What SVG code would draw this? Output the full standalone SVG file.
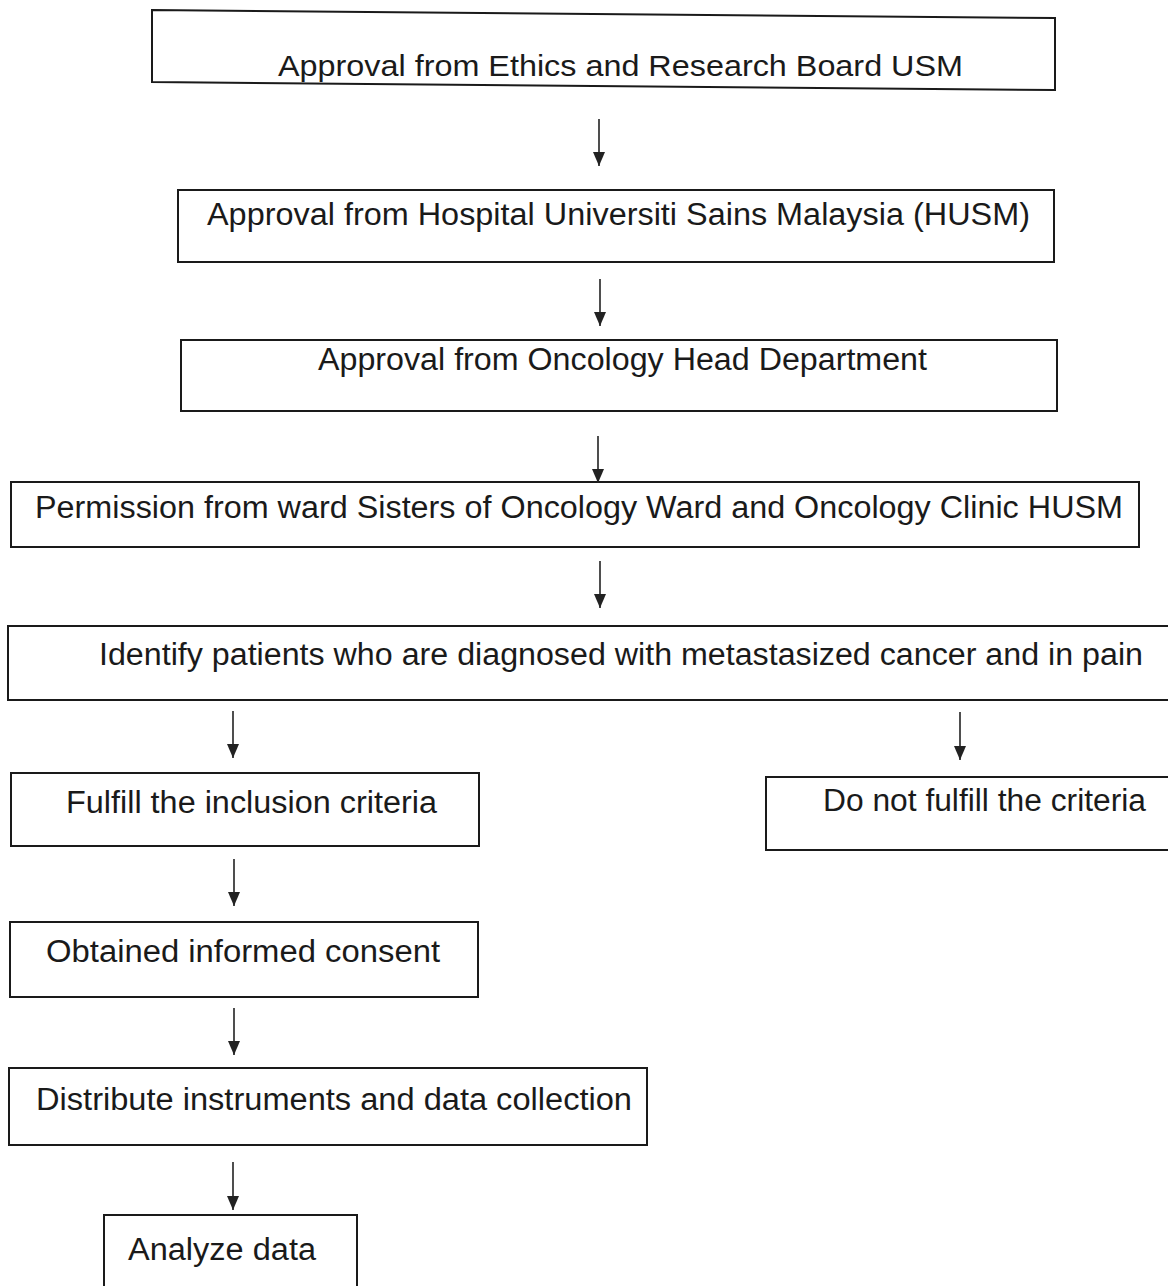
<svg xmlns="http://www.w3.org/2000/svg" width="1168" height="1286" viewBox="0 0 1168 1286">
<style>
.box{fill:#fff;stroke:#1a1a1a;stroke-width:2}
.lbl{font-family:"Liberation Sans",Arial,sans-serif;font-size:31px;fill:#1a1a1a}
.cn{stroke:#222;stroke-width:1.6;fill:none}
</style>
<defs>
<marker id="ah" markerUnits="userSpaceOnUse" markerWidth="16" markerHeight="12" refX="14" refY="6" orient="auto" viewBox="0 0 16 12">
<path d="M0,0 L14,6 L0,12 Z" fill="#222"/>
</marker>
</defs>
<rect width="1168" height="1286" fill="#fff"/>
<g id="n1"><polygon class="box" points="152,10 1055,18 1055,90 152,82"/><text class="lbl" x="278" y="76" style="font-size:30px" textLength="685" lengthAdjust="spacingAndGlyphs">Approval from Ethics and Research Board USM</text></g>
<g id="n2"><rect class="box" x="178" y="190" width="876" height="72"/><text class="lbl" x="207" y="225" textLength="823" lengthAdjust="spacingAndGlyphs">Approval from Hospital Universiti Sains Malaysia (HUSM)</text></g>
<g id="n3"><rect class="box" x="181" y="340" width="876" height="71"/><text class="lbl" x="318" y="370" textLength="609" lengthAdjust="spacingAndGlyphs">Approval from Oncology Head Department</text></g>
<g id="n4"><rect class="box" x="11" y="482" width="1128" height="65"/><text class="lbl" x="35" y="518" textLength="1088" lengthAdjust="spacingAndGlyphs">Permission from ward Sisters of Oncology Ward and Oncology Clinic HUSM</text></g>
<g id="n5"><rect class="box" x="8" y="626" width="1170" height="74"/><text class="lbl" x="99" y="665" textLength="1044" lengthAdjust="spacingAndGlyphs">Identify patients who are diagnosed with metastasized cancer and in pain</text></g>
<g id="n6"><rect class="box" x="11" y="773" width="468" height="73"/><text class="lbl" x="66" y="813" textLength="371" lengthAdjust="spacingAndGlyphs">Fulfill the inclusion criteria</text></g>
<g id="n7"><rect class="box" x="766" y="777" width="412" height="73"/><text class="lbl" x="823" y="811" textLength="323" lengthAdjust="spacingAndGlyphs">Do not fulfill the criteria</text></g>
<g id="n8"><rect class="box" x="10" y="922" width="468" height="75"/><text class="lbl" x="46" y="962" textLength="394" lengthAdjust="spacingAndGlyphs">Obtained informed consent</text></g>
<g id="n9"><rect class="box" x="9" y="1068" width="638" height="77"/><text class="lbl" x="36" y="1110" textLength="596" lengthAdjust="spacingAndGlyphs">Distribute instruments and data collection</text></g>
<g id="n10"><rect class="box" x="104" y="1215" width="253" height="80"/><text class="lbl" x="128" y="1260" textLength="188" lengthAdjust="spacingAndGlyphs">Analyze data</text></g>
<g id="connectors">
<line class="cn" x1="599" y1="119" x2="599" y2="166" marker-end="url(#ah)"/>
<line class="cn" x1="600" y1="279" x2="600" y2="326" marker-end="url(#ah)"/>
<line class="cn" x1="598" y1="436" x2="598" y2="483" marker-end="url(#ah)"/>
<line class="cn" x1="600" y1="561" x2="600" y2="608" marker-end="url(#ah)"/>
<line class="cn" x1="233" y1="711" x2="233" y2="758" marker-end="url(#ah)"/>
<line class="cn" x1="960" y1="712" x2="960" y2="760" marker-end="url(#ah)"/>
<line class="cn" x1="234" y1="859" x2="234" y2="906" marker-end="url(#ah)"/>
<line class="cn" x1="234" y1="1008" x2="234" y2="1055" marker-end="url(#ah)"/>
<line class="cn" x1="233" y1="1162" x2="233" y2="1210" marker-end="url(#ah)"/>
</g>
</svg>
